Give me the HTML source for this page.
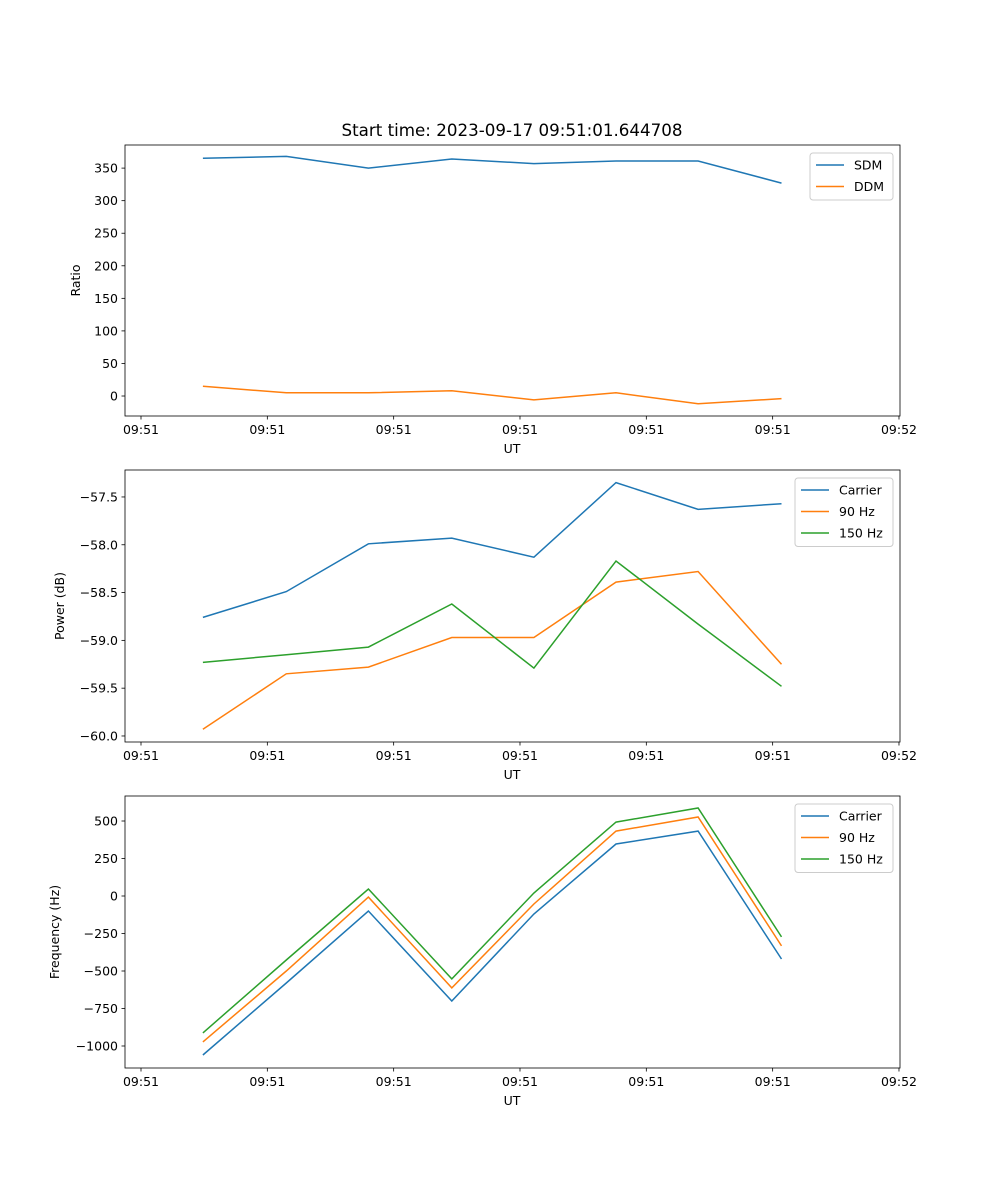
<!DOCTYPE html>
<html><head><meta charset="utf-8"><style>
body{margin:0;background:#fff}
svg{display:block;font-family:"DejaVu Sans","Liberation Sans",sans-serif}
</style></head><body>
<svg id="fig" width="1000" height="1200">
<rect width="1000" height="1200" fill="#fff"/>
<text x="512" y="136" font-size="16.7" text-anchor="middle">Start time: 2023-09-17 09:51:01.644708</text>
</svg>
<script>
const times = [0.49,1.15,1.80,2.46,3.11,3.76,4.41,5.07];
const xTicks = [0,1,2,3,4,5,6];
const xTickLabels = ["09:51","09:51","09:51","09:51","09:51","09:51","09:52"];
const sdm = [365,368,350,364,357,361,361,327];
const ddm = [15,5,5,8,-6,5,-12,-4];
const pCarrier = [-58.76,-58.49,-57.99,-57.93,-58.13,-57.35,-57.63,-57.57];
const p90 = [-59.93,-59.35,-59.28,-58.97,-58.97,-58.39,-58.28,-59.25];
const p150 = [-59.23,-59.15,-59.07,-58.62,-59.29,-58.17,-58.83,-59.48];
const fCarrier = [-1060,-580,-100,-700,-120,347,433,-420];
const f90 = [-973,-500,-7,-613,-53,433,527,-333];
const f150 = [-913,-427,47,-553,20,493,587,-273];
const ticks1 = [0,50,100,150,200,250,300,350];
const ticks2 = [-60.0,-59.5,-59.0,-58.5,-58.0,-57.5];
const ticks3 = [-1000,-750,-500,-250,0,250,500];
const C=["#1f77b4","#ff7f0e","#2ca02c"];
const NS="http://www.w3.org/2000/svg";
const svg=document.getElementById('fig');
const FS=12.5;
function el(tag,attrs,parent){const e=document.createElementNS(NS,tag);for(const k in attrs)e.setAttribute(k,attrs[k]);(parent||svg).appendChild(e);return e;}
function panel(top,bottom,ymin,ymax,yticks,fmt,ylabel,series,names,legend,id){
  const L=125,R=900;
  const x=v=>141+(v-0)*126.33;
  const y=v=>bottom-(v-ymin)/(ymax-ymin)*(bottom-top);
  const g=el('g',{});
  
  
  series.forEach((s,i)=>{
    const p=el('polyline',{points:s.map((v,j)=>x(times[j]).toFixed(1)+','+y(v).toFixed(1)).join(' '),fill:'none',stroke:C[i],'stroke-width':1.5},g);
    
    
  });
  const fr=el('rect',{x:L,y:top,width:R-L,height:bottom-top,fill:'none',stroke:'#000','stroke-width':0.8},g);
  
  
  xTicks.forEach((t,i)=>{
    el('line',{x1:x(t),x2:x(t),y1:bottom,y2:bottom+3.5,stroke:'#000','stroke-width':0.8},g);
    const tx=el('text',{x:x(t),y:bottom+18,'font-size':FS,'text-anchor':'middle'},g);tx.textContent=xTickLabels[i];
    
    
  });
  yticks.forEach(t=>{
    el('line',{x1:L,x2:L-3.5,y1:y(t),y2:y(t),stroke:'#000','stroke-width':0.8},g);
    const tx=el('text',{x:L-7,y:y(t)+4.5,'font-size':FS,'text-anchor':'end'},g);tx.textContent=fmt(t);
    
    
  });
  const xl=el('text',{x:512,y:bottom+37,'font-size':FS,'text-anchor':'middle'},g);xl.textContent='UT';
  
  
  const yl=el('text',{x:0,y:0,'font-size':FS,'text-anchor':'middle',transform:`translate(${legend.yx},${(top+bottom)/2}) rotate(-90)`},g);yl.textContent=ylabel;
  
  
  const lg=el('g',{},g);
  
  
  el('rect',{x:legend.x,y:top+8,width:893-legend.x,height:names.length*21.5+4,fill:'#fff',stroke:'#ccc',rx:3},lg);
  names.forEach((n,i)=>{
    const yy=top+20+i*21.5;
    el('line',{x1:legend.x+6,x2:legend.x+34,y1:yy,y2:yy,stroke:C[i],'stroke-width':1.5},lg);
    const t=el('text',{x:legend.x+44,y:yy+4.5,'font-size':FS},lg);t.textContent=n;
    
    
  });
}
panel(145,416,-30.7,385.5,ticks1,v=>v,'Ratio',[sdm,ddm],['SDM','DDM'],{x:810,yx:80},'ratio-panel');
panel(470,742,-60.063,-57.218,ticks2,v=>v.toFixed(1).replace('-','\u2212'),'Power (dB)',[pCarrier,p90,p150],['Carrier','90 Hz','150 Hz'],{x:795,yx:64},'power-panel');
panel(796,1068,-1146.7,666.7,ticks3,v=>String(v).replace('-','\u2212'),'Frequency (Hz)',[fCarrier,f90,f150],['Carrier','90 Hz','150 Hz'],{x:795,yx:59},'frequency-panel');
</script>
</body></html>
